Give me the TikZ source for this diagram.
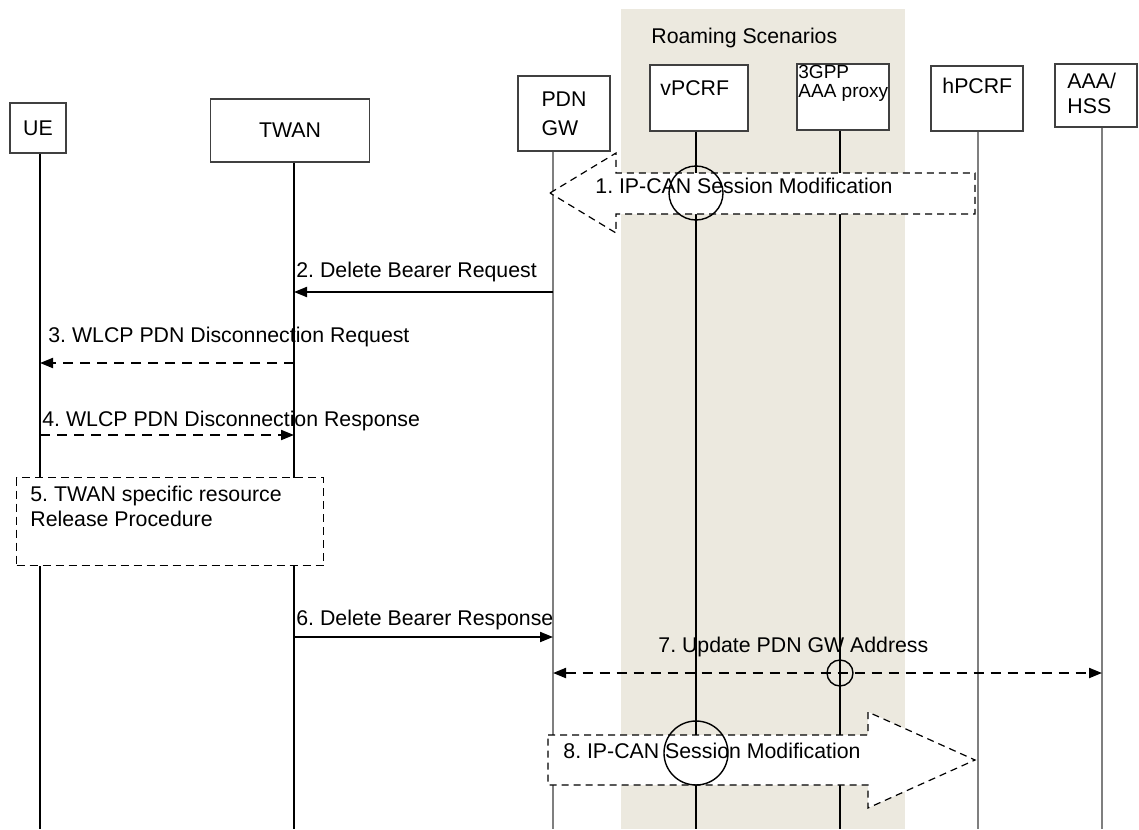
\documentclass[tikz,border=0pt]{standalone}
\usepackage{fontspec}
\setmainfont{Liberation Sans}
\frenchspacing
\usetikzlibrary{arrows.meta,positioning}
\definecolor{Shade}{HTML}{ECE9DF}
\definecolor{Frame}{HTML}{404040}
\definecolor{Grey}{HTML}{7F7F7F}

\tikzset{
  ent/.style={draw=Frame, line width=0.7pt, fill=white, inner sep=0pt,
    font=\fontsize{10.65}{14.5}\selectfont},
  life/.style={line width=0.7pt},
  msg/.style={line width=1pt, -{Triangle[length=6.5pt,width=5pt]}},
  dmsg/.style={msg, dash pattern=on 5pt off 3.5pt},
  lbl/.style={inner sep=0pt, font=\fontsize{10.65}{12.5}\selectfont},
  blk/.style={draw=black, fill=white, line width=0.6pt, dash pattern=on 3.5pt off 2.5pt},
  proc/.style={draw=black, fill=white, line width=0.6pt, dash pattern=on 4pt off 2.5pt},
  ring/.style={draw=black, line width=0.7pt},
}

\begin{document}
\begin{tikzpicture}[x=0.5pt,y=-0.5pt]
  \useasboundingbox (0,0) rectangle (1139,829);
  % roaming area
  \fill[Shade] (621,9) rectangle (905,829);
  \node[lbl, anchor=base west] (roam) at (651,43.6) {Roaming Scenarios};

  % entities
  \node[ent, minimum width=28pt, minimum height=25pt] (ue) at (38,128) {UE};
  \node[ent, minimum width=79.5pt, minimum height=31.5pt] (twan) at (290,130.5) {TWAN};
  \node[ent, minimum width=46pt, minimum height=37.5pt, align=left] (pdn) at (564,113.5) {PDN\\GW};
  \node[ent, minimum width=49pt, minimum height=33pt] (vpcrf) at (699,98) {};
  \node[ent, minimum width=46pt, minimum height=33pt] (aaap) at (843,97) {};
  \node[ent, minimum width=46pt, minimum height=32.5pt] (hpcrf) at (977,98.5) {};
  \node[ent, minimum width=41pt, minimum height=31.5pt] (hss) at (1096,95.5) {};
  \node[lbl, anchor=west] (vpcrf-t) at (660,88) {vPCRF};
  \node[lbl, anchor=north west, align=left, font=\fontsize{9.5}{9.5}\selectfont] (aaap-t) at (798,65) {3GPP\\AAA proxy};
  \node[lbl, anchor=west] (hpcrf-t) at (942,86) {hPCRF};
  \node[lbl, anchor=north west, align=left] (hss-t) at (1067,72.5) {AAA/\\HSS};

  % lifelines
  \foreach \n/\lx/\c in {ue/40/black, twan/294/black, pdn/553/Grey, vpcrf/696/black,
                         aaap/840/black, hpcrf/978/Grey, hss/1102/Grey} {
    \coordinate (\n-end) at (\lx,829);
    \draw[life,\c] (\n.south -| \n-end) -- (\n-end);
  }

  % message levels
  \coordinate (m2) at (0,292);
  \coordinate (m3) at (0,363);
  \coordinate (m4) at (0,435);
  \coordinate (m6) at (0,637);
  \coordinate (m7) at (0,673);

  \draw[msg]  (m2 -| pdn-end) -- (m2 -| twan-end);
  \node[lbl, anchor=base west] (m2-t) at (296,277.6) {2. Delete Bearer Request};
  \draw[dmsg] (m3 -| twan-end) -- (m3 -| ue-end);
  \node[lbl, anchor=base west] (m3-t) at (48,342.6) {3. WLCP PDN Disconnection Request};
  \draw[dmsg] (m4 -| ue-end) -- (m4 -| twan-end);
  \node[lbl, anchor=base west] (m4-t) at (42,426.6) {4. WLCP PDN Disconnection Response};

  % step 5
  \node[proc, minimum width=153.5pt, minimum height=44pt, anchor=north west, inner sep=0pt] (rel) at (16,477) {};
  \node[lbl, anchor=north west, align=left] (rel-t) at (30,485.5) {5. TWAN specific resource\\Release Procedure};

  \draw[msg]  (m6 -| twan-end) -- (m6 -| pdn-end);
  \node[lbl, anchor=base west] (m6-t) at (296,625.6) {6. Delete Bearer Response};
  \draw[dmsg, {Triangle[length=6.5pt,width=5pt]}-{Triangle[length=6.5pt,width=5pt]}] (m7 -| pdn-end) -- (m7 -| hss-end);
  \draw[ring] (840,673) circle[radius=6.5pt];
  \node[lbl, anchor=base west] (m7-t) at (658,652.6) {7. Update PDN GW Address};

  % IP-CAN block arrows
  \draw[blk] (550,193) -- (616,153) -- (616,173) -- (975,173) -- (975,214) -- (616,214) -- (616,233) -- cycle;
  \draw[ring] (696,193) circle[radius=13.5pt];
  \node[lbl, anchor=base west] (m1-t) at (595,193.6) {1. IP-CAN Session Modification};
  \draw[blk] (548,735) -- (868,735) -- (868,712) -- (975,760) -- (868,808) -- (868,785) -- (548,785) -- cycle;
  \draw[ring] (696,753) circle[radius=16pt];
  \node[lbl, anchor=base west] (m8-t) at (563,758.6) {8. IP-CAN Session Modification};
\end{tikzpicture}
\end{document}
